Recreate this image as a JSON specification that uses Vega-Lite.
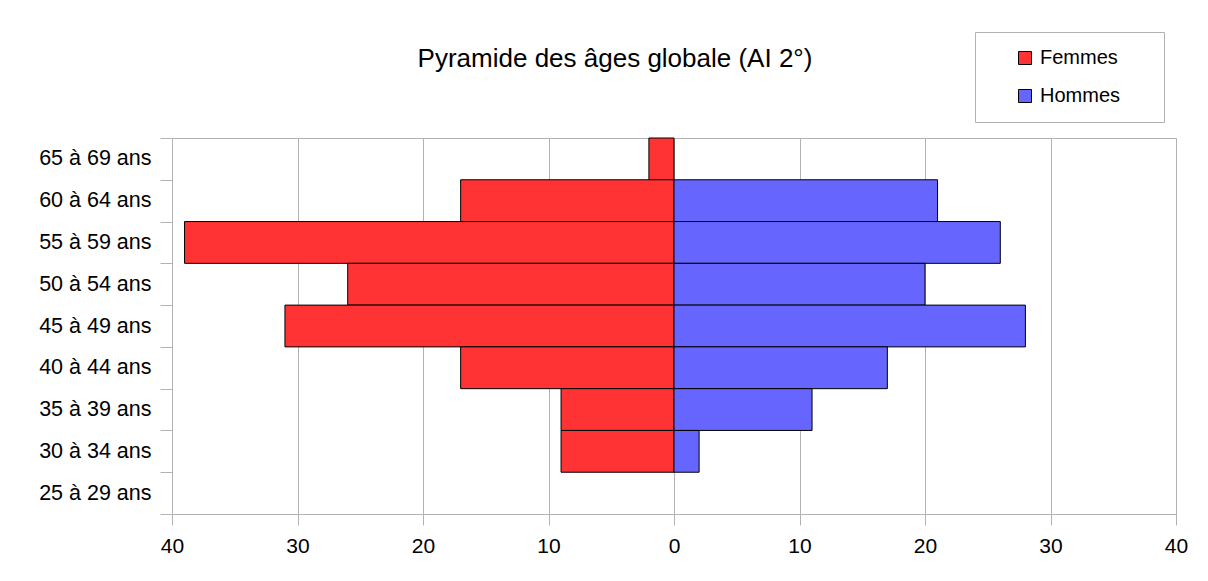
{
  "$schema": "https://vega.github.io/schema/vega-lite/v6.json",
  "width": 1004,
  "height": 376,
  "autosize": {"type": "none"},
  "padding": {"left": 172, "top": 138, "right": 32, "bottom": 67},
  "background": "white",
  "title": {
    "text": "Pyramide des âges globale (AI 2°)",
    "font": "Liberation Sans",
    "fontSize": 26,
    "fontWeight": "normal",
    "color": "black",
    "anchor": "middle",
    "frame": "group",
    "dx": -59,
    "offset": -40
  },
  "data": {
    "values": [
      {"age": "65 à 69 ans", "sexe": "Femmes", "effectif": -2},
      {"age": "60 à 64 ans", "sexe": "Femmes", "effectif": -17},
      {"age": "60 à 64 ans", "sexe": "Hommes", "effectif": 21},
      {"age": "55 à 59 ans", "sexe": "Femmes", "effectif": -39},
      {"age": "55 à 59 ans", "sexe": "Hommes", "effectif": 26},
      {"age": "50 à 54 ans", "sexe": "Femmes", "effectif": -26},
      {"age": "50 à 54 ans", "sexe": "Hommes", "effectif": 20},
      {"age": "45 à 49 ans", "sexe": "Femmes", "effectif": -31},
      {"age": "45 à 49 ans", "sexe": "Hommes", "effectif": 28},
      {"age": "40 à 44 ans", "sexe": "Femmes", "effectif": -17},
      {"age": "40 à 44 ans", "sexe": "Hommes", "effectif": 17},
      {"age": "35 à 39 ans", "sexe": "Femmes", "effectif": -9},
      {"age": "35 à 39 ans", "sexe": "Hommes", "effectif": 11},
      {"age": "30 à 34 ans", "sexe": "Femmes", "effectif": -9},
      {"age": "30 à 34 ans", "sexe": "Hommes", "effectif": 2}
    ]
  },
  "mark": {"type": "bar", "stroke": "black", "strokeWidth": 1},
  "encoding": {
    "y": {
      "field": "age",
      "type": "nominal",
      "scale": {
        "domain": ["65 à 69 ans", "60 à 64 ans", "55 à 59 ans", "50 à 54 ans", "45 à 49 ans", "40 à 44 ans", "35 à 39 ans", "30 à 34 ans", "25 à 29 ans"],
        "paddingInner": 0,
        "paddingOuter": 0
      },
      "axis": {
        "title": null,
        "tickBand": "extent",
        "tickSize": 12,
        "tickColor": "#b3b3b3",
        "domainColor": "#b3b3b3",
        "labelFont": "Liberation Sans",
        "labelFontSize": 21.5,
        "labelColor": "black",
        "labelPadding": 9
      }
    },
    "x": {
      "field": "effectif",
      "type": "quantitative",
      "scale": {"domain": [-40, 40], "nice": false},
      "axis": {
        "title": null,
        "values": [-40, -30, -20, -10, 0, 10, 20, 30, 40],
        "labelExpr": "abs(datum.value)",
        "grid": true,
        "gridColor": "#b3b3b3",
        "tickSize": 11,
        "tickColor": "#b3b3b3",
        "domainColor": "#b3b3b3",
        "labelFont": "Liberation Sans",
        "labelFontSize": 21,
        "labelColor": "black",
        "labelPadding": 10,
        "labelFlush": false
      }
    },
    "color": {
      "field": "sexe",
      "type": "nominal",
      "scale": {"domain": ["Femmes", "Hommes"], "range": ["#ff3333", "#6666ff"]},
      "legend": {
        "title": "\u00a0",
        "titleOrient": "right",
        "titlePadding": 28,
        "titleFontSize": 20,
        "titleFont": "Liberation Sans",
        "orient": "none",
        "legendX": 803,
        "legendY": -106,
        "symbolType": "square",
        "symbolSize": 169,
        "symbolStrokeColor": "black",
        "symbolStrokeWidth": 1,
        "symbolOpacity": 1,
        "labelFont": "Liberation Sans",
        "labelFontSize": 20,
        "labelColor": "black",
        "labelOffset": 5,
        "rowPadding": 18,
        "padding": 16,
        "strokeColor": "#b3b3b3",
        "fillColor": "white",
        "symbolOffset": 24
      }
    }
  },
  "config": {
    "view": {"stroke": "#b3b3b3"}
  }
}
